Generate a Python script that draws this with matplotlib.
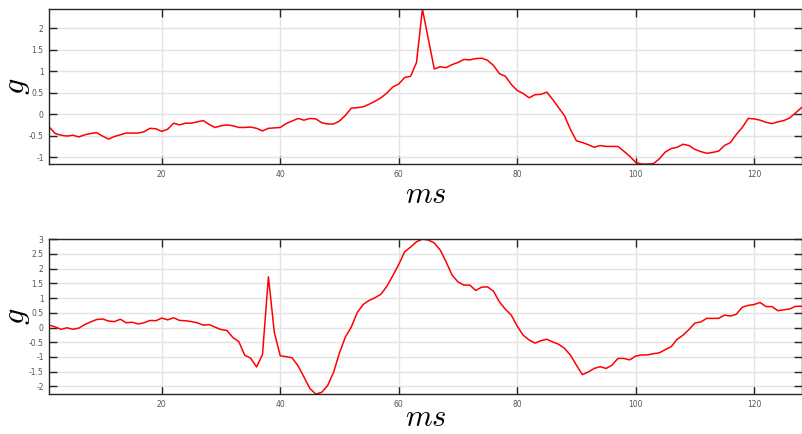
import numpy as np
import matplotlib
matplotlib.use('Agg')
import matplotlib.pyplot as plt

plt.rcParams['axes.unicode_minus'] = False
plt.rcParams['mathtext.fontset'] = 'cm'

# 采样点 (ms)
t = np.arange(1, 129)

# 上图数据
g_top = [
    -0.30, -0.45, -0.49, -0.51, -0.49, -0.53, -0.48, -0.45, -0.43, -0.51,
    -0.58, -0.52, -0.48, -0.44, -0.44, -0.44, -0.41, -0.33, -0.34, -0.40,
    -0.35, -0.21, -0.25, -0.21, -0.21, -0.18, -0.15, -0.24, -0.31, -0.27,
    -0.25, -0.27, -0.31, -0.31, -0.30, -0.33, -0.39, -0.33, -0.32, -0.31,
    -0.22, -0.16, -0.10, -0.14, -0.10, -0.11, -0.20, -0.23, -0.23, -0.16,
    -0.03, 0.14, 0.15, 0.17, 0.23, 0.30, 0.38, 0.49, 0.63, 0.70,
    0.85, 0.88, 1.20, 2.44, 1.75, 1.05, 1.10, 1.08, 1.15, 1.20,
    1.27, 1.26, 1.29, 1.30, 1.25, 1.13, 0.94, 0.88, 0.69, 0.55,
    0.48, 0.38, 0.45, 0.46, 0.51, 0.34, 0.15, -0.04, -0.36, -0.62,
    -0.66, -0.71, -0.77, -0.73, -0.75, -0.75, -0.75, -0.86, -0.98, -1.12,
    -1.16, -1.16, -1.15, -1.04, -0.88, -0.80, -0.77, -0.70, -0.73, -0.82,
    -0.87, -0.91, -0.89, -0.86, -0.73, -0.66, -0.47, -0.31, -0.10, -0.11,
    -0.14, -0.19, -0.22, -0.18, -0.15, -0.09, 0.03, 0.15,
]

# 下图数据
g_bot = [
    0.08, 0.02, -0.06, -0.01, -0.06, -0.02, 0.10, 0.19, 0.27, 0.29,
    0.22, 0.20, 0.28, 0.16, 0.18, 0.12, 0.16, 0.24, 0.23, 0.32,
    0.26, 0.33, 0.24, 0.23, 0.20, 0.16, 0.08, 0.10, 0.01, -0.07,
    -0.10, -0.34, -0.48, -0.94, -1.04, -1.34, -0.92, 1.72, -0.17, -0.96,
    -0.99, -1.03, -1.30, -1.68, -2.07, -2.26, -2.20, -1.97, -1.52, -0.86,
    -0.32, 0.02, 0.51, 0.78, 0.92, 1.01, 1.13, 1.40, 1.76, 2.14,
    2.57, 2.73, 2.91, 3.00, 2.97, 2.87, 2.63, 2.23, 1.78, 1.55,
    1.44, 1.44, 1.26, 1.37, 1.38, 1.23, 0.87, 0.62, 0.42, 0.05,
    -0.26, -0.42, -0.53, -0.45, -0.40, -0.49, -0.57, -0.71, -0.94, -1.28,
    -1.60, -1.51, -1.39, -1.33, -1.39, -1.28, -1.05, -1.05, -1.10, -0.97,
    -0.93, -0.93, -0.89, -0.86, -0.75, -0.65, -0.40, -0.26, -0.07, 0.15,
    0.19, 0.31, 0.31, 0.31, 0.42, 0.39, 0.45, 0.69, 0.75, 0.78,
    0.85, 0.71, 0.71, 0.57, 0.60, 0.63, 0.72, 0.72,
]

xticks = [20, 40, 60, 80, 100, 120]
yticks_top = [-1, -0.5, 0, 0.5, 1, 1.5, 2]
yticks_bot = [-2, -1.5, -1, -0.5, 0, 0.5, 1, 1.5, 2, 2.5, 3]

fig = plt.figure(figsize=(8.02, 4.34), dpi=100)
ax1 = fig.add_axes([0.0614, 0.622, 0.938, 0.357])
ax2 = fig.add_axes([0.0614, 0.092, 0.938, 0.357])

for ax, y, yt, lp in [(ax1, g_top, yticks_top, 1), (ax2, g_bot, yticks_bot, -4)]:
    ax.plot(t, y, color='red', lw=1.1)
    ax.set_xlim(1, 128)
    ax.set_ylim(min(y), max(y))
    ax.set_xticks(xticks)
    ax.set_yticks(yt)
    ax.set_yticklabels(['%g' % v for v in yt])
    ax.grid(True, color='#e3e3e3', lw=1)
    ax.set_axisbelow(True)
    ax.tick_params(direction='in', length=5.5, width=1, color='#262626',
                   labelsize=5.5, labelcolor='#555555', top=True, right=True, pad=4)
    for s in ax.spines.values():
        s.set_color('#262626')
        s.set_linewidth(1)
    ax.set_xlabel(r'$ms$', fontsize=22, labelpad=lp)
    ax.set_ylabel(r'$g$', fontsize=23)
    ax.yaxis.set_label_coords(-0.023, 0.5)

fig.savefig('out.png', dpi=100)
